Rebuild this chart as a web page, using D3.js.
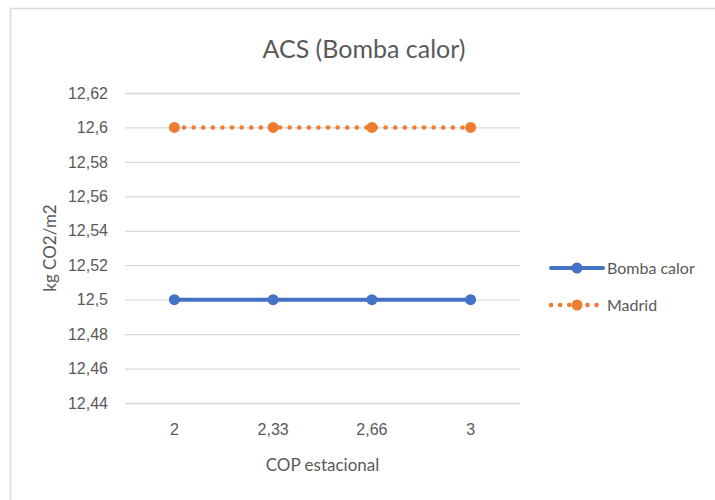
<!DOCTYPE html>
<html>
<head>
<meta charset="utf-8">
<script src="https://cdn.jsdelivr.net/npm/d3@7"></script>
<style>
  body { margin: 0; background: #fff; }
  svg { font-family: Lato, "Open Sans", sans-serif; }
</style>
</head>
<body>
<div id="chart"></div>
<script>
const categories = ["2", "2,33", "2,66", "3"];
const bombaCalor = [12.5, 12.5, 12.5, 12.5];
const madrid = [12.6, 12.6, 12.6, 12.6];
const yTicks = [12.44, 12.46, 12.48, 12.5, 12.52, 12.54, 12.56, 12.58, 12.6, 12.62];

const W = 715, H = 500;
const margin = { top: 93, right: 195, bottom: 97, left: 125 },
    width = W - margin.left - margin.right,
    height = H - margin.top - margin.bottom;

const svg = d3.select("#chart").append("svg")
    .attr("width", W)
    .attr("height", H);

// chart frame
svg.append("rect")
    .attr("x", 10.5).attr("y", 8.5)
    .attr("width", W + 10).attr("height", H + 10)
    .attr("fill", "none")
    .attr("stroke", "#d9d9d9")
    .attr("stroke-width", 1.5);

const g = svg.append("g")
    .attr("transform", `translate(${margin.left},${margin.top})`);

const x = d3.scaleBand().domain(categories).range([0, width]);
const y = d3.scaleLinear().domain([12.44, 12.62]).range([height, 0]);

const fmt = d => d3.format(".2~f")(d).replace(".", ",");

// gridlines
g.append("g")
    .call(d3.axisLeft(y).tickValues(yTicks).tickSize(-width).tickFormat(""))
    .call(a => a.select(".domain").remove())
    .selectAll("line")
    .attr("stroke", "#d9d9d9")
    .attr("stroke-width", 1.3);

// y axis labels
g.append("g")
    .call(d3.axisLeft(y).tickValues(yTicks).tickSize(0).tickPadding(17).tickFormat(fmt))
    .call(a => a.select(".domain").remove())
    .selectAll("text")
    .attr("fill", "#595959")
    .style("font-size", "16px");

// x axis labels
g.append("g")
    .attr("transform", `translate(0,${height})`)
    .call(d3.axisBottom(x).tickSize(0).tickPadding(21))
    .call(a => a.select(".domain").remove())
    .selectAll("text")
    .attr("fill", "#595959")
    .style("font-size", "16px");

// titles
svg.append("text")
    .attr("x", 364).attr("y", 58)
    .attr("text-anchor", "middle")
    .attr("fill", "#595959")
    .style("font-size", "25px")
    .text("ACS (Bomba calor)");

svg.append("text")
    .attr("x", margin.left + width / 2).attr("y", 471)
    .attr("text-anchor", "middle")
    .attr("fill", "#595959")
    .style("font-size", "17px")
    .text("COP estacional");

svg.append("text")
    .attr("transform", `translate(56,${margin.top + height / 2}) rotate(-90)`)
    .attr("text-anchor", "middle")
    .attr("fill", "#595959")
    .style("font-size", "17px")
    .text("kg CO2/m2");

const line = d3.line()
    .x((d, i) => x(categories[i]) + x.bandwidth() / 2)
    .y(d => y(d));

const series = [
    { name: "Bomba calor", values: bombaCalor, color: "#4472c4", dash: null, width: 4 },
    { name: "Madrid", values: madrid, color: "#ed7d31", dash: "0.1 9.5", width: 4.5 }
];

series.forEach(s => {
    g.append("path")
        .datum(s.values)
        .attr("d", line)
        .attr("fill", "none")
        .attr("stroke", s.color)
        .attr("stroke-width", s.width)
        .attr("stroke-linecap", "round")
        .attr("stroke-dasharray", s.dash);

    g.selectAll(null)
        .data(s.values)
        .enter().append("circle")
        .attr("cx", (d, i) => x(categories[i]) + x.bandwidth() / 2)
        .attr("cy", d => y(d))
        .attr("r", 5.5)
        .attr("fill", s.color);
});

// legend
const legend = svg.append("g").attr("transform", "translate(550,268)");
series.forEach((s, i) => {
    const row = legend.append("g").attr("transform", `translate(0,${i * 37})`);
    row.append("line")
        .attr("x1", 1).attr("x2", 53)
        .attr("stroke", s.color)
        .attr("stroke-width", s.width)
        .attr("stroke-linecap", "round")
        .attr("stroke-dasharray", s.dash ? "0.1 9" : null);
    row.append("circle")
        .attr("cx", 27).attr("r", 5.5)
        .attr("fill", s.color);
    row.append("text")
        .attr("x", 57).attr("y", 5.5)
        .attr("fill", "#595959")
        .style("font-size", "16px")
        .text(s.name);
});
</script>
</body>
</html>
